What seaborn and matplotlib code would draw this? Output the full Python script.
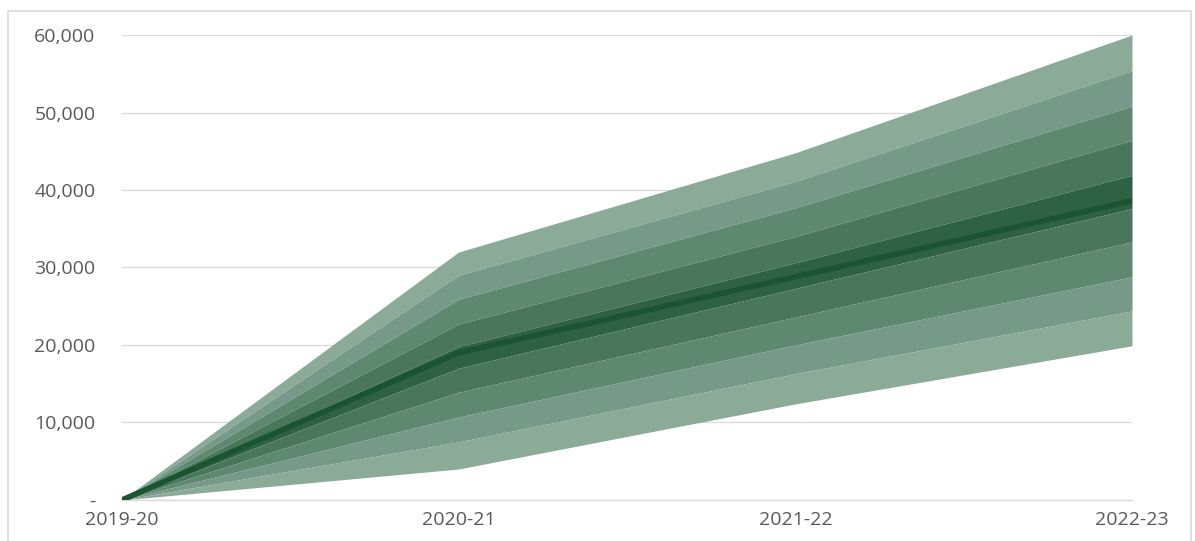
import pandas as pd
import seaborn as sns
import matplotlib.pyplot as plt
from matplotlib.patches import Rectangle
from matplotlib.ticker import FuncFormatter

# categories and central projection
years = ["2019-20", "2020-21", "2021-22", "2022-23"]
central = [0, 19000, 28800, 38600]

# fan bounds, outer to inner
upper_4 = [0, 32000, 44800, 60000]
upper_3 = [0, 29000, 41100, 55400]
upper_2 = [0, 25900, 37700, 50800]
upper_1 = [0, 22700, 34000, 46400]
upper_0 = [0, 19800, 30600, 41900]
lower_0 = [0, 17000, 27300, 37600]
lower_1 = [0, 13900, 23600, 33300]
lower_2 = [0, 10700, 20000, 28800]
lower_3 = [0, 7500, 16300, 24400]
lower_4 = [0, 4000, 12400, 19900]

y_ticks = [0, 10000, 20000, 30000, 40000, 50000, 60000]

sns.set_style("white")
plt.rcParams['font.family'] = ['Open Sans', 'DejaVu Sans']

df = pd.DataFrame({"year": years, "central": central})
x = list(range(len(years)))

fig = plt.figure(figsize=(11.95, 5.41), dpi=100)
ax = fig.add_axes([0.1021, 0.0758, 0.8452, 0.8595])

# each band drawn from boundary to boundary so colours stay flat
bounds = [upper_4, upper_3, upper_2, upper_1, upper_0,
          lower_0, lower_1, lower_2, lower_3, lower_4]
band_colors = ["#8baa97", "#76998a", "#5f8870", "#4a775b", "#2f6244",
               "#4a775b", "#5f8870", "#76998a", "#8baa97"]
for i, col in enumerate(band_colors):
    ax.fill_between(x, bounds[i], bounds[i + 1], color=col, linewidth=0, zorder=2)

sns.lineplot(data=df, x=x, y="central", color="#1b5433", linewidth=4.0,
             solid_capstyle="round", ax=ax, zorder=3)

ax.set_xlim(0, 3)
ax.set_ylim(0, 60000)
ax.set_xticks(x)
ax.set_xticklabels(years)
ax.set_yticks(y_ticks)
ax.yaxis.set_major_formatter(FuncFormatter(lambda v, p: "-" if v == 0 else f"{int(v):,}"))
ax.set_xlabel("")
ax.set_ylabel("")

ax.grid(axis="y", color="#d9d9d9", linewidth=0.9, zorder=0)
ax.set_axisbelow(True)
for s in ["top", "right", "left"]:
    ax.spines[s].set_visible(False)
ax.spines["bottom"].set_color("#d9d9d9")
ax.spines["bottom"].set_linewidth(1.0)

ax.tick_params(axis="x", colors="#595959", labelsize=14, length=5, width=0.9,
               direction="out", color="#d9d9d9", pad=3)
ax.tick_params(axis="y", colors="#595959", labelsize=14, length=0, pad=19)
ax.tick_params(axis="x", labelcolor="#595959")

# chart border
fig.patches.append(Rectangle((0.007, -0.01), 0.99, 0.99, transform=fig.transFigure,
                             fill=False, edgecolor="#d9d9d9", linewidth=1.2))

fig.savefig("out.png", dpi=100)
